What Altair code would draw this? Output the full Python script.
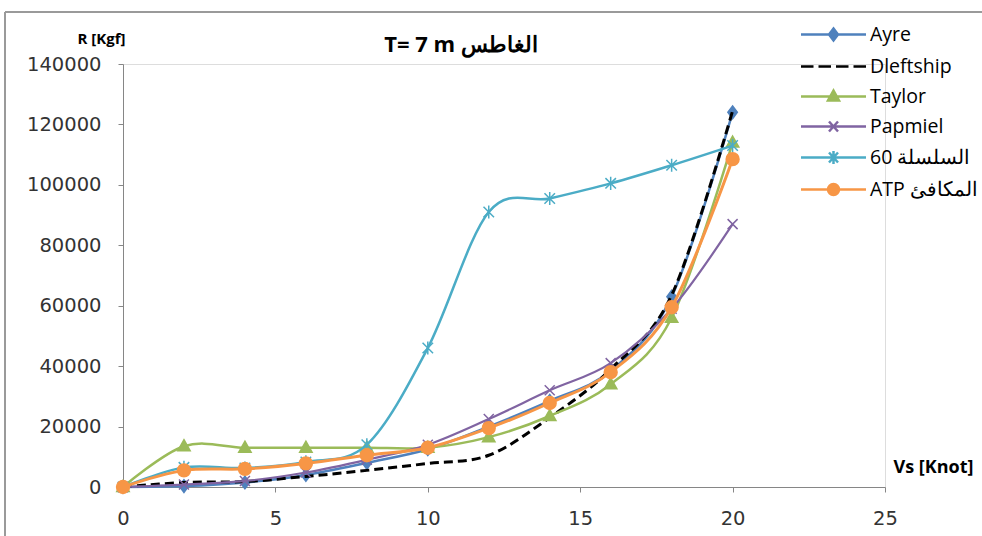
import altair as alt
import pandas as pd

# ---------------- data ----------------
speed = [0, 2, 4, 6, 8, 10, 12, 14, 16, 18, 20]
series_names = ["Ayre", "Dleftship", "Taylor", "Papmiel", "60 السلسلة", "ATP المكافئ"]
ayre = [0, 300, 1500, 4000, 8000, 12500, 20000, 28500, 38500, 63000, 124000]
dleftship = [0, 1500, 1800, 3500, 5500, 7800, 10500, 23000, 39000, 63500, 124500]
taylor = [0, 13500, 13000, 13000, 13000, 13000, 16500, 23500, 34000, 56000, 114000]
papmiel = [0, 800, 2000, 4800, 9000, 14000, 22500, 32000, 41000, 59000, 87000]
series60 = [0, 6500, 6300, 8300, 14000, 46000, 91000, 95500, 100500, 106500, 113000]
atp = [0, 5500, 6000, 7800, 10500, 13000, 19500, 27800, 38000, 59500, 108500]
all_vals = [ayre, dleftship, taylor, papmiel, series60, atp]

x_ticks = [0, 5, 10, 15, 20, 25]
y_ticks = [0, 20000, 40000, 60000, 80000, 100000, 120000, 140000]
chart_title = "T= 7 m الغاطس"

# ---------------- style ----------------
colors = ["#4F81BD", "#000000", "#9BBB59", "#8064A2", "#4BACC6", "#F79646"]
line_widths = [2.5, 3, 2.5, 2.2, 2.5, 3]
dashes = [None, [9, 5], None, None, None, None]
marker_paths = [
    "M0,-1L0.75,0L0,1L-0.75,0Z",
    None,
    "M0,-1L0.95,0.7L-0.95,0.7Z",
    "M-1,-1L1,1M-1,1L1,-1",
    "M-1,-1L1,1M-1,1L1,-1M0,-1.25L0,1.25",
    "circle",
]
marker_sizes = [160, 0, 170, 100, 110, 165]
legend_paths = [
    "M-3.25,0L3.25,0M0,-0.6L0.45,0L0,0.6L-0.45,0Z",
    "M-3.25,0L-2,0M-1.5,0L-0.25,0M0.25,0L1.5,0M2,0L3.25,0",
    "M-3.25,0L3.25,0M0,-0.6L0.55,0.4L-0.55,0.4Z",
    "M-3.25,0L3.25,0M-0.45,-0.5L0.45,0.5M-0.45,0.5L0.45,-0.5",
    "M-3.25,0L3.25,0M-0.45,-0.5L0.45,0.5M-0.45,0.5L0.45,-0.5M0,-0.65L0,0.65",
    "M-3.25,0L3.25,0M0.55,0A0.55,0.55 0 1 1 -0.55,0A0.55,0.55 0 1 1 0.55,0Z",
]

rows = []
for name, vals in zip(series_names, all_vals):
    for s, v in zip(speed, vals):
        rows.append({"series": name, "Vs": s, "R": v})
df = pd.DataFrame(rows)

FONT = "Open Sans"
NUMFONT = "DejaVu Sans"
W, H = 762, 423

x_enc = alt.X(
    "Vs:Q",
    scale=alt.Scale(domain=[0, 25], nice=False, zero=False),
    axis=alt.Axis(
        values=x_ticks, tickSize=5, labelPadding=17, labelFontSize=19.5, labelFont=NUMFONT,
        labelColor="#333333", domainColor="#868686", tickColor="#868686", grid=False,
        labelFlush=False, title="Vs [Knot]", titleX=770, titleY=-20, titleAlign="left",
        titleBaseline="middle", titleAngle=0, titleFontSize=18, titleFontWeight="bold",
        titleColor="#000000", titleFont=FONT,
    ),
)
y_enc = alt.Y(
    "R:Q",
    scale=alt.Scale(domain=[0, 140000], nice=False),
    axis=alt.Axis(
        values=y_ticks, format="d", tickSize=5, labelPadding=17, labelFontSize=19.5, labelFont=NUMFONT,
        labelColor="#333333", domainColor="#868686", tickColor="#868686", grid=False,
        labelFlush=False, labelOverlap=False, title="R [Kgf]", titleAngle=0, titleX=-22, titleY=-26,
        titleAlign="center", titleBaseline="middle", titleFontSize=15, titleFontWeight="bold",
        titleColor="#000000", titleFont=FONT,
    ),
)

layers = []
for i, name in enumerate(series_names):
    base = alt.Chart(df).transform_filter(alt.FieldEqualPredicate(field="series", equal=name))
    kw = dict(color=colors[i], strokeWidth=line_widths[i], interpolate="cardinal")
    if dashes[i]:
        kw["strokeDash"] = dashes[i]
    layers.append(base.mark_line(**kw).encode(x=x_enc, y=y_enc))
    if marker_paths[i]:
        layers.append(
            base.mark_point(
                shape=marker_paths[i], size=marker_sizes[i], filled=True, fill=colors[i],
                stroke=colors[i], strokeWidth=1.5, opacity=1,
            ).encode(x=x_enc, y=y_enc)
        )

legend_cfg = dict(
    title=None, orient="none", legendX=699, legendY=-41, symbolSize=400, symbolStrokeWidth=2.5,
    labelOffset=25, rowPadding=9, labelFont=FONT, labelFontSize=19.5, labelColor="#000000",
    symbolOpacity=1, labelLimit=300,
)
legend_layer = alt.Chart(df).transform_filter("false").mark_point(
    filled=True, opacity=1, strokeWidth=2.5
).encode(
    x=x_enc,
    y=y_enc,
    fill=alt.Fill("series:N", scale=alt.Scale(domain=series_names, range=colors), legend=alt.Legend(**legend_cfg)),
    stroke=alt.Stroke("series:N", scale=alt.Scale(domain=series_names, range=colors), legend=alt.Legend(**legend_cfg)),
    shape=alt.Shape("series:N", scale=alt.Scale(domain=series_names, range=legend_paths), legend=alt.Legend(**legend_cfg)),
)
layers.append(legend_layer)

# chart title as a text mark above the plot
title_df = pd.DataFrame({"t": [chart_title]})
layers.append(alt.Chart(title_df).mark_text(
    font=FONT, fontSize=22, fontWeight="bold", color="#000000", align="center", baseline="middle"
).encode(text="t:N", x=alt.value(338), y=alt.value(-19)))

# chart-area frame (decoration)
frame_df = pd.DataFrame({"k": [0]})
layers.append(alt.Chart(frame_df).mark_rule(color="#9a9a9a", strokeWidth=2).encode(
    x=alt.value(-118), y=alt.value(-52), y2=alt.value(480)))
layers.append(alt.Chart(frame_df).mark_rule(color="#9a9a9a", strokeWidth=2).encode(
    x=alt.value(-118), x2=alt.value(870), y=alt.value(-52)))

chart = alt.layer(*layers).properties(
    width=W,
    height=H,
    autosize=alt.AutoSizeParams(type="none"),
    padding={"left": 123, "top": 64, "right": 97, "bottom": 49},
).configure_view(stroke=None).configure(background="white")

chart.save("out.html", embed_options={"renderer": "svg", "actions": False})
